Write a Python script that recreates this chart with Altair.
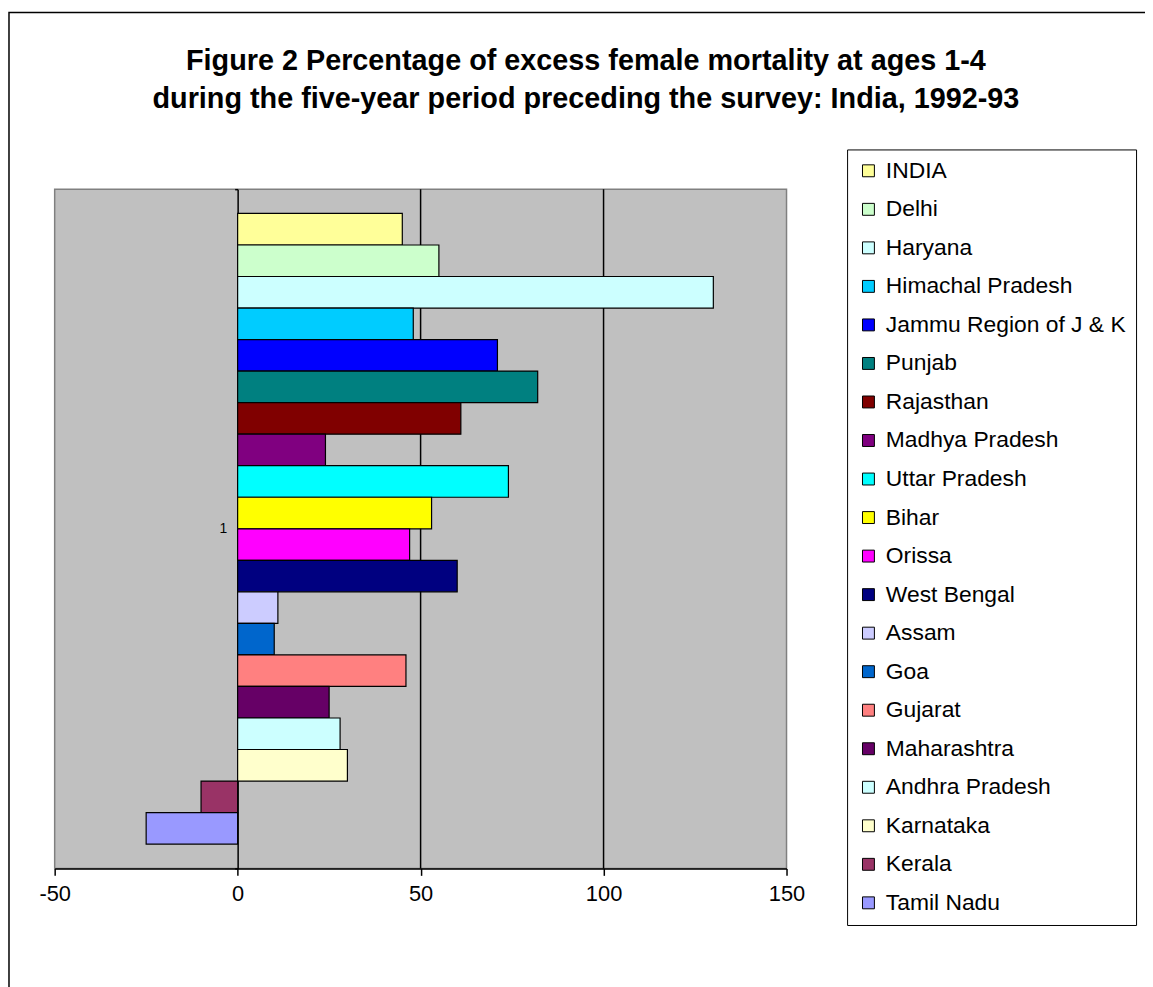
import altair as alt
import pandas as pd

states = ["INDIA", "Delhi", "Haryana", "Himachal Pradesh", "Jammu Region of J & K",
          "Punjab", "Rajasthan", "Madhya Pradesh", "Uttar Pradesh", "Bihar", "Orissa",
          "West Bengal", "Assam", "Goa", "Gujarat", "Maharashtra", "Andhra Pradesh",
          "Karnataka", "Kerala", "Tamil Nadu"]
values = [45, 55, 130, 48, 71, 82, 61, 24, 74, 53, 47, 60, 11, 10, 46, 25, 28, 30, -10, -25]
colors = ["#FFFF99", "#CCFFCC", "#CCFFFF", "#00CCFF", "#0000FF", "#008080", "#800000",
          "#800080", "#00FFFF", "#FFFF00", "#FF00FF", "#000080", "#CCCCFF", "#0066CC",
          "#FF8080", "#660066", "#CCFFFF", "#FFFFCC", "#993366", "#9999FF"]
category = ["1"] * len(states)
x_ticks = [-50, 0, 50, 100, 150]
grid_values = [50, 100]
title_lines = ["Figure 2 Percentage of excess female mortality at ages 1-4",
               "during the five-year period preceding the survey: India, 1992-93"]

FONT = "Liberation Sans"
W, H = 737, 684
PL, PT, PR, PB = 47, 179, 361, 116

df = pd.DataFrame({"state": states, "value": values, "grp": category})
grid_df = pd.DataFrame({"g": grid_values})

xscale = alt.Scale(domain=[-50, 150], nice=False, zero=False)
xaxis = alt.Axis(values=x_ticks, title=None, grid=False, domainColor="black",
                 domainWidth=1.5, tickColor="black", tickSize=7, tickWidth=1.5,
                 labelFontSize=22, labelFont=FONT, labelColor="black", labelPadding=8,
                 labelFlush=False, labelOverlap=False, labelExpr="toString(datum.value)")

frame = alt.Chart(pd.DataFrame({"a": [0]})).mark_rect(
    fillOpacity=0, stroke="black", strokeWidth=1.5
).encode(
    x=alt.value(-PL + 1), x2=alt.value(W + PR + 20),
    y=alt.value(-PT + 1), y2=alt.value(H + PB + 20),
)

title = alt.Chart(pd.DataFrame({"a": [0]})).mark_text(
    text=title_lines, fontSize=29, fontWeight="bold", font=FONT, color="black",
    align="center", baseline="alphabetic", lineHeight=38
).encode(x=alt.value(535), y=alt.value(-120))

grid = alt.Chart(grid_df).mark_rule(color="black", strokeWidth=1.5).encode(
    x=alt.X("g:Q", scale=xscale, axis=xaxis)
)

bars = alt.Chart(df).mark_bar(stroke="black", strokeWidth=1.2).encode(
    x=alt.X("value:Q", scale=xscale, axis=xaxis),
    x2=alt.datum(0),
    y=alt.Y("grp:N", scale=alt.Scale(paddingInner=0, paddingOuter=0),
            axis=alt.Axis(title=None, offset=-(W * 50 / 200), domainColor="black",
                          domainWidth=1.5, tickBand="extent", tickSize=3,
                          tickColor="black", tickWidth=1.5, labelFontSize=14,
                          labelFont=FONT, labelColor="black", labelPadding=8,
                          labelAngle=0, grid=False)),
    yOffset=alt.YOffset("state:N", sort=states,
                        scale=alt.Scale(paddingInner=0, paddingOuter=0.77)),
    color=alt.Color("state:N", sort=states,
                    scale=alt.Scale(domain=states, range=colors),
                    legend=alt.Legend(title=None, orient="none", legendX=798, legendY=-40,
                                      strokeColor="black", fillColor="white", padding=10,
                                      labelFontSize=23, labelFont=FONT, labelColor="black",
                                      symbolType="square", symbolSize=144,
                                      symbolStrokeColor="black", symbolStrokeWidth=1,
                                      symbolOpacity=1, rowPadding=14.8, labelOffset=6,
                                      labelLimit=500)),
)

chart = alt.layer(frame, title, grid, bars).properties(
    width=W, height=H,
    padding={"left": PL, "top": PT, "right": PR, "bottom": PB},
    autosize="none",
    background="white",
).configure_view(fill="#C0C0C0", stroke="#808080", strokeWidth=1.5)

chart.save("out.html", embed_options={"renderer": "svg", "actions": False})
